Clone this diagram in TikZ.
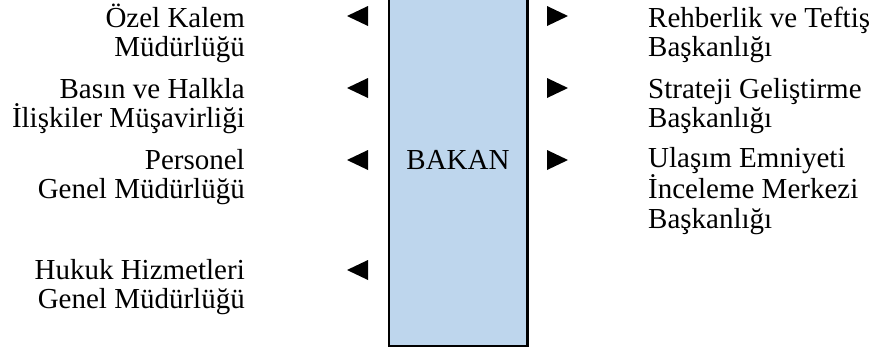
\documentclass[tikz,border=0pt]{standalone}
\usepackage{fontspec}
\setmainfont{Liberation Serif}
\definecolor{boxblue}{RGB}{190,214,237}
\begin{document}
\begin{tikzpicture}[x=1pt,y=1pt,
  lbl/.style={inner sep=0pt, font=\fontsize{29}{29.5}\selectfont},
  lefttext/.style={lbl, anchor=base east, align=right},
  righttext/.style={lbl, anchor=base west, align=left},
  chief/.style={draw=black, line width=2.5pt, fill=boxblue, minimum width=138.5pt, minimum height=355.75pt, inner sep=0pt},
  lmark/.pic={\fill[black] (-10.5,0) -- (10.5,10) -- (10.5,-10) -- cycle;},
  rmark/.pic={\fill[black] (10.5,0) -- (-10.5,10) -- (-10.5,-10) -- cycle;}
]
\useasboundingbox (0,0) rectangle (880,-349);
\node[chief] (minister) at (458,-167.9) {};
\node[lbl, anchor=base] (bakan) at (458,-169) {BAKAN};
% left side (anchor = baseline of the last line)
\node[lefttext] (l1) at (245,-56.5) {Özel Kalem\\Müdürlüğü};
\node[lefttext] (l2) at (245,-127.5) {Basın ve Halkla\\İlişkiler Müşavirliği};
\node[lefttext] (l3) at (245,-198.5) {Personel\\Genel Müdürlüğü};
\node[lefttext] (l4) at (245,-308.5) {Hukuk Hizmetleri\\Genel Müdürlüğü};
% right side
\node[righttext] (r1) at (648,-56.5) {Rehberlik ve Teftiş\\Başkanlığı};
\node[righttext] (r2) at (648,-127.5) {Strateji Geliştirme\\Başkanlığı};
\node[righttext] (r3) at (648,-228) {Ulaşım Emniyeti\\İnceleme Merkezi\\Başkanlığı};
% markers
\coordinate (lm1) at (357.5,-16);
\coordinate (lm2) at (357.5,-88);
\coordinate (lm3) at (357.5,-160);
\coordinate (lm4) at (357.5,-270);
\coordinate (rm1) at (557.5,-16);
\coordinate (rm2) at (557.5,-88);
\coordinate (rm3) at (557.5,-160);
\foreach \c in {lm1,lm2,lm3,lm4} \pic at (\c) {lmark};
\foreach \c in {rm1,rm2,rm3} \pic at (\c) {rmark};
\end{tikzpicture}
\end{document}
